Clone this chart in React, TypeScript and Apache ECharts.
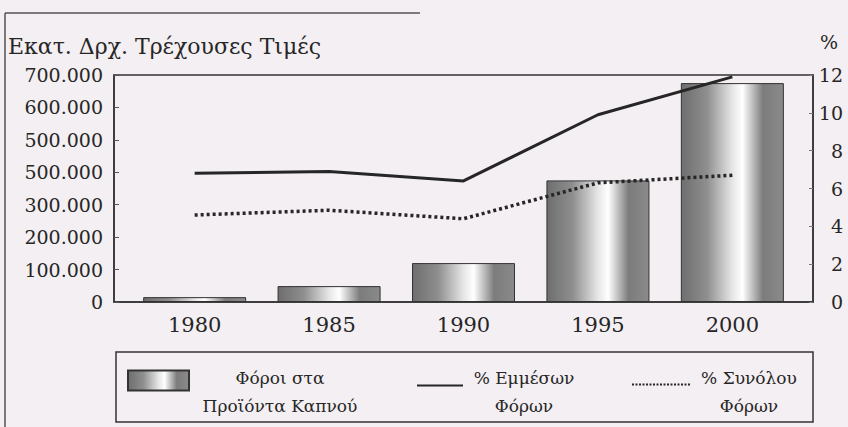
import React, { useEffect, useRef } from "react";
import * as echarts from "echarts";

const years = [1980, 1985, 1990, 1995, 2000];
const tobaccoTax = [15000, 49000, 120000, 375000, 675000];
const indirectPct = [6.8, 6.9, 6.4, 9.9, 11.9];
const totalPct = [4.6, 4.85, 4.4, 6.3, 6.7];
const leftTickLabels = ["0", "100.000", "200.000", "300.000", "500.000", "500.000", "600.000", "700.000"];
const rightTickLabels = ["0", "2", "4", "6", "8", "10", "12"];

const seriesNames = ["Φόροι στα\nΠροϊόντα Καπνού", "% Εμμέσων\nΦόρων", "% Συνόλου\nΦόρων"];
const leftTitle = "Εκατ. Δρχ. Τρέχουσες Τιμές";
const rightTitle = "%";

const FONT = "DejaVu Serif";
const INK = "#262626";

function dottedIcon(width: number, height: number, y: number, step: number, dot: number) {
  let d = `path://M0,0M0,${height}`;
  for (let x = 0; x + dot <= width; x += step) {
    d += `M${x},${y}h${dot}v${dot}h-${dot}z`;
  }
  return d;
}

export default function App() {
  const ref = useRef<HTMLDivElement>(null);
  useEffect(() => {
    const chart = echarts.init(ref.current!, null, { renderer: "svg" });
    const barGradient = new echarts.graphic.LinearGradient(0, 0, 1, 0, [
      { offset: 0, color: "#6e6e6e" },
      { offset: 0.25, color: "#8e8e8e" },
      { offset: 0.5, color: "#e6e6e6" },
      { offset: 0.6, color: "#ffffff" },
      { offset: 0.8, color: "#7c7c7c" },
      { offset: 1, color: "#8a8a8a" },
    ]);
    const legendText = (w: number) => ({
      fontFamily: FONT,
      fontSize: 17,
      color: INK,
      rich: { a: { width: w, align: "center", fontFamily: FONT, fontSize: 17, color: INK, lineHeight: 28 } },
    });
    const fmt = (name: string) =>
      name
        .split("\n")
        .map((s) => `{a|${s}}`)
        .join("\n");
    chart.setOption({
      animation: false,
      backgroundColor: "#f4eff2",
      textStyle: { fontFamily: FONT },
      grid: {
        left: 114,
        right: 35,
        top: 75,
        bottom: 125,
        show: true,
        borderColor: "#333",
        borderWidth: 1.5,
        containLabel: false,
      },
      xAxis: {
        type: "value",
        min: 1977,
        max: 2003,
        splitLine: { show: false },
        axisTick: { show: false },
        axisLine: { show: true, lineStyle: { color: "#333", width: 1.5 } },
        axisLabel: {
          customValues: years,
          fontFamily: FONT,
          fontSize: 21,
          color: INK,
          margin: 12,
          formatter: (v: number) => String(v),
        },
      },
      yAxis: [
        {
          type: "value",
          min: 0,
          max: 700000,
          interval: 100000,
          splitLine: { show: false },
          axisLine: { show: true, lineStyle: { color: "#333", width: 1.5 } },
          axisTick: { show: true, inside: true, length: 5, lineStyle: { color: "#555" } },
          axisLabel: {
            fontFamily: FONT,
            fontSize: 19,
            color: INK,
            margin: 11,
            formatter: (v: number) => leftTickLabels[Math.round(v / 100000)],
          },
        },
        {
          type: "value",
          position: "right",
          min: 0,
          max: 12,
          interval: 2,
          splitLine: { show: false },
          axisLine: { show: true, lineStyle: { color: "#333", width: 1.5 } },
          axisTick: { show: true, inside: true, length: 4, lineStyle: { color: "#777" } },
          axisLabel: {
            fontFamily: FONT,
            fontSize: 19,
            color: INK,
            margin: 30,
            align: "right",
            formatter: (v: number) => rightTickLabels[Math.round(v / 2)],
          },
        },
      ],
      legend: [
        {
          data: [seriesNames[0]],
          left: 127,
          top: 369,
          padding: 0,
          itemWidth: 61,
          itemHeight: 42,
          icon: "path://M0,42M0,0h61v20h-61z",
          formatter: fmt,
          textStyle: legendText(172),
        },
        {
          data: [seriesNames[1]],
          left: 417,
          top: 369,
          padding: 0,
          itemWidth: 46,
          itemHeight: 20,
          icon: "path://M0,0M0,20M0,3h46v2h-46z",
          itemStyle: { borderWidth: 0 },
          formatter: fmt,
          textStyle: legendText(112),
        },
        {
          data: [seriesNames[2]],
          left: 632,
          top: 369,
          padding: 0,
          itemWidth: 58,
          itemHeight: 20,
          icon: dottedIcon(58, 20, 2, 3.5, 2),
          itemStyle: { borderWidth: 0 },
          formatter: fmt,
          textStyle: legendText(108),
        },
      ],
      graphic: [
        {
          type: "text",
          left: 8,
          top: 35,
          style: { text: leftTitle, font: `22px "${FONT}"`, fill: INK },
        },
        {
          type: "text",
          left: 820,
          top: 32,
          style: { text: rightTitle, font: `19px "${FONT}"`, fill: INK },
        },
        {
          type: "rect",
          shape: { x: 116, y: 352, width: 697, height: 70 },
          style: { fill: "none", stroke: "#333", lineWidth: 1.5 },
        },
        {
          type: "line",
          shape: { x1: 5, y1: 13, x2: 5, y2: 427 },
          style: { stroke: "#555", lineWidth: 1.5 },
        },
        {
          type: "line",
          shape: { x1: 5, y1: 13, x2: 420, y2: 13 },
          style: { stroke: "#555", lineWidth: 1.5 },
        },
      ],
      series: [
        {
          name: seriesNames[0],
          type: "bar",
          yAxisIndex: 0,
          barWidth: 103,
          data: years.map((y, i) => [y, tobaccoTax[i]]),
          itemStyle: { color: barGradient, borderColor: "#333", borderWidth: 1 },
        },
        {
          name: seriesNames[1],
          type: "line",
          yAxisIndex: 1,
          symbol: "none",
          data: years.map((y, i) => [y, indirectPct[i]]),
          lineStyle: { color: INK, width: 3 },
          itemStyle: { color: INK },
        },
        {
          name: seriesNames[2],
          type: "line",
          yAxisIndex: 1,
          symbol: "none",
          data: years.map((y, i) => [y, totalPct[i]]),
          lineStyle: { color: INK, width: 3.5, type: [3, 3] },
          itemStyle: { color: INK },
        },
      ],
    });
    return () => chart.dispose();
  }, []);
  return <div ref={ref} style={{ width: 848, height: 427, position: "absolute", left: 0, top: 0 }} />;
}
